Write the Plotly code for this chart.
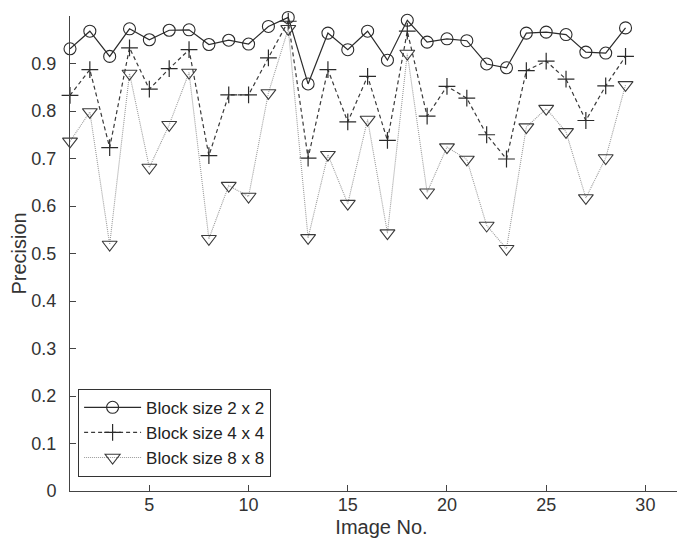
import plotly.graph_objects as go

image_no = list(range(1, 30))
block_2x2 = [0.931, 0.968, 0.915, 0.973, 0.950, 0.970, 0.971, 0.940, 0.949, 0.941,
             0.978, 0.997, 0.857, 0.964, 0.929, 0.968, 0.907, 0.991, 0.945, 0.952,
             0.948, 0.899, 0.891, 0.964, 0.966, 0.961, 0.924, 0.922, 0.975]
block_4x4 = [0.833, 0.887, 0.723, 0.933, 0.846, 0.889, 0.929, 0.706, 0.834, 0.834,
             0.912, 0.989, 0.701, 0.887, 0.777, 0.873, 0.738, 0.968, 0.789, 0.852,
             0.827, 0.750, 0.699, 0.885, 0.905, 0.867, 0.780, 0.853, 0.915]
block_8x8 = [0.736, 0.798, 0.519, 0.879, 0.681, 0.771, 0.881, 0.531, 0.643, 0.620,
             0.838, 0.973, 0.533, 0.708, 0.605, 0.782, 0.543, 0.921, 0.629, 0.724,
             0.698, 0.559, 0.510, 0.766, 0.805, 0.756, 0.617, 0.701, 0.855]
series_names = ["Block size 2 x 2", "Block size 4 x 4", "Block size 8 x 8"]
x_ticks = [5, 10, 15, 20, 25, 30]
y_ticks = [0, 0.1, 0.2, 0.3, 0.4, 0.5, 0.6, 0.7, 0.8, 0.9, 1]
y_tick_text = ["0", "0.1", "0.2", "0.3", "0.4", "0.5", "0.6", "0.7", "0.8", "0.9", "1"]

fam = "Liberation Sans, Arial, sans-serif"
fig = go.Figure()
fig.add_trace(go.Scatter(
    x=image_no, y=block_2x2, name=series_names[0], mode="lines+markers", cliponaxis=False,
    line=dict(color="#2b2b2b", width=1.2),
    marker=dict(symbol="circle-open", size=12, color="#2b2b2b", line=dict(width=1.1))))
fig.add_trace(go.Scatter(
    x=image_no, y=block_4x4, name=series_names[1], mode="lines+markers", cliponaxis=False,
    line=dict(color="#3a3a3a", width=1.2, dash="4px,3px"),
    marker=dict(symbol="cross-thin-open", size=12, color="#2b2b2b", line=dict(width=1.2, color="#2b2b2b"))))
fig.add_trace(go.Scatter(
    x=image_no, y=block_8x8, name=series_names[2], mode="lines+markers", cliponaxis=False,
    line=dict(color="#9a9a9a", width=1.1, dash="1px,1px"),
    marker=dict(symbol="triangle-down-open", size=13, color="#3a3a3a", line=dict(width=1.1))))

axis_font = dict(family=fam, size=18, color="#333333")
title_font = dict(family=fam, size=20, color="#333333")
fig.update_layout(
    width=685, height=542,
    margin=dict(l=62, r=0, t=8, b=59),
    paper_bgcolor="white", plot_bgcolor="white",
    font=axis_font,
    showlegend=True,
    legend=dict(x=0.013, y=0.03, xanchor="left", yanchor="bottom",
                bgcolor="white", bordercolor="#333333", borderwidth=1,
                font=dict(family=fam, size=17, color="#222222"),
                itemwidth=57, tracegroupgap=0),
    xaxis=dict(range=[1, 32.4], tickvals=x_ticks, ticks="inside", ticklen=6,
               tickcolor="#444444", showline=True, linecolor="#444444", linewidth=1,
               showgrid=False, zeroline=False, tickfont=axis_font, ticklabelstandoff=-3,
               title=dict(text="Image No.", font=title_font, standoff=6)),
    yaxis=dict(range=[0, 1], tickvals=y_ticks, ticktext=y_tick_text, ticks="inside", ticklen=6,
               tickcolor="#444444", showline=True, linecolor="#444444", linewidth=1,
               showgrid=False, zeroline=False, tickfont=axis_font, ticklabelstandoff=9,
               title=dict(text="Precision", font=title_font, standoff=5)),
)
fig.write_html("out.html")
